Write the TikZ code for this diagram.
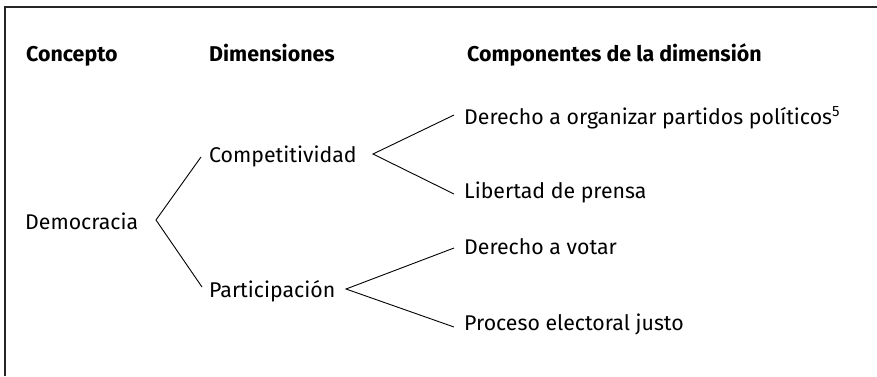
\documentclass[tikz,border=0pt]{standalone}
\usepackage{fontspec}
\setmainfont{Fira Sans}
\usetikzlibrary{calc}
\begin{document}
\begin{tikzpicture}[x=1pt,y=-1pt,
  lbl/.style={anchor=base west, inner sep=0pt, text height=15pt, text depth=0pt,
              font=\fontsize{21.3}{26}\selectfont},
  hdr/.style={lbl, font=\fontsize{21.4}{26}\selectfont\bfseries},
  link/.style={draw, line width=0.9pt},
  frame/.style={line width=1.4pt, draw=black!85}]
\useasboundingbox (0,0) rectangle (877,376);
\draw[frame] (5,376) -- (5,7) -- (877,7);
% headers
\node[hdr] (hc) at (26,61) {Concepto};
\node[hdr] (hd) at (209,61) {Dimensiones};
\node[hdr] (hk) at (467,61) {Componentes de la dimensión};
% concept
\node[lbl] (dem) at (25,229) {Democracia};
% dimensions
\node[lbl] (comp) at (209,162) {Competitividad};
\node[lbl] (part) at (209,297) {Participación};
% components
\node[lbl] (d1) at (464,124) {Derecho a organizar partidos políticos\textsuperscript{5}};
\node[lbl] (lib) at (464,198) {Libertad de prensa};
\node[lbl] (vot) at (464,254) {Derecho a votar};
\node[lbl] (pro) at (464,330) {Proceso electoral justo};
% vertices
\coordinate (v1) at (156,220);
\coordinate (v2) at (373,154);
\coordinate (v3) at (346,289);
% connectors
\draw[link] ($(comp.west)+(-8,2.5)$) -- (v1) -- ($(part.west)+(-7,-2.5)$);
\draw[link] ($(d1.west)+(-10,-1.5)$) -- (v2) -- ($(lib.west)+(-10,3.5)$);
\draw[link] ($(vot.west)+(-10,1.5)$) -- (v3) -- ($(pro.west)+(-10,4.5)$);
\end{tikzpicture}
\end{document}
